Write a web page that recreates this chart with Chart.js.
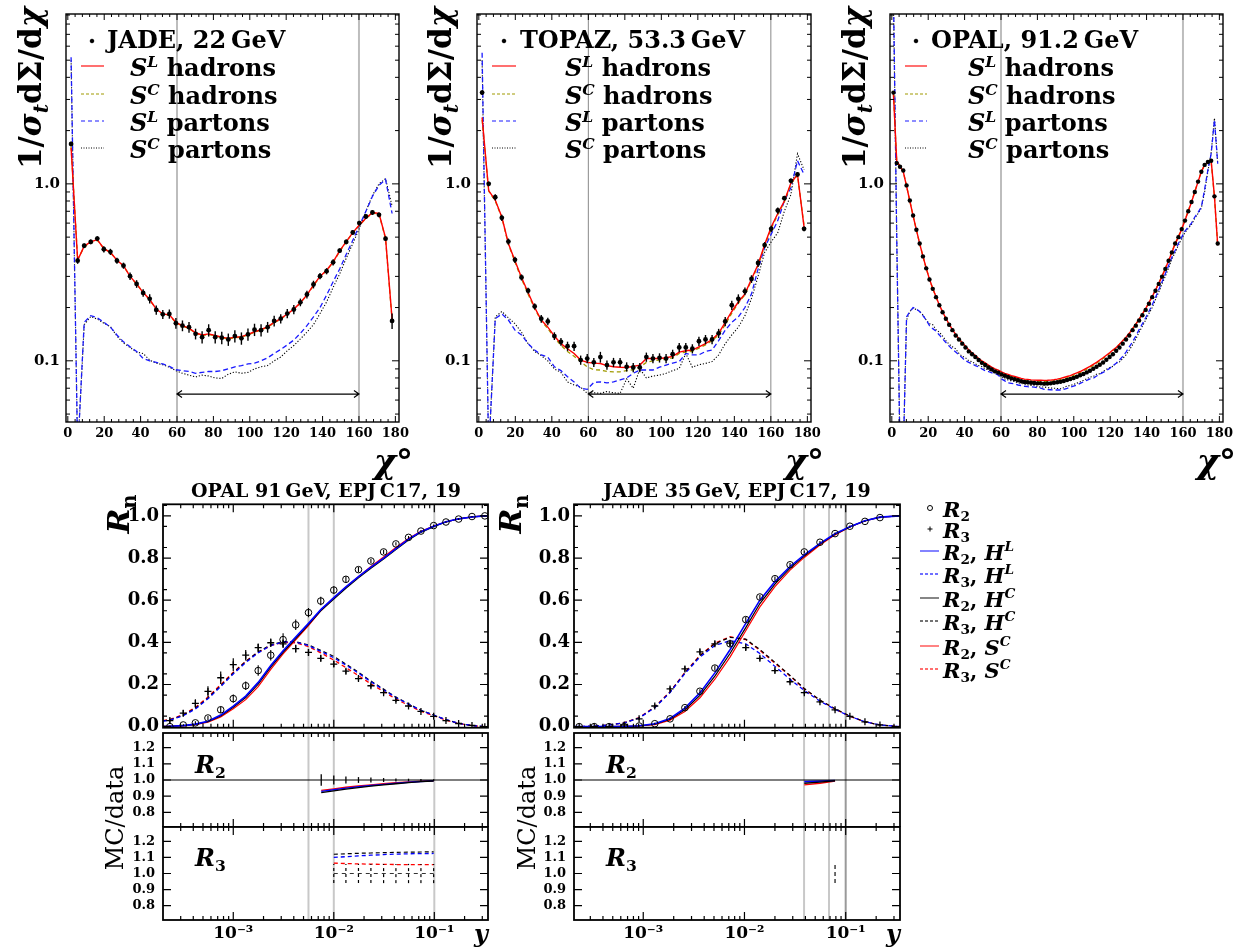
<!DOCTYPE html>
<html><head><meta charset="utf-8">
<script src="https://cdn.jsdelivr.net/npm/chart.js@4.4.1/dist/chart.umd.min.js"></script>
<style>
html,body{margin:0;padding:0;background:#fff;}
body{width:1242px;height:951px;position:relative;overflow:hidden;font-family:"DejaVu Serif",serif;color:#000;}
canvas{position:absolute;}
.t{position:absolute;white-space:nowrap;line-height:1;}
.t sup{font-size:0.65em;vertical-align:0.6em;line-height:0;}
.t sub{font-size:0.65em;vertical-align:-0.35em;line-height:0;}
svg{position:absolute;overflow:visible;left:0;top:0;}
</style></head><body>
<script>
// ---------------- DATA ----------------
const TOP_X_TICKS = [0,20,40,60,80,100,120,140,160,180];
const TOP_X_LABELS = ['0','20','40','60','80','100','120','140','160','180'];
const TOP_Y_TICKS = [0.1, 1];
const TOP_Y_LABELS = ['0.1','1.0'];
const BOT_X_TICKS = [0.001, 0.01, 0.1];
const BOT_X_LABELS = ['10\u207B\u00B3','10\u207B\u00B2','10\u207B\u00B9'];
const MAIN_Y_TICKS = [0,0.2,0.4,0.6,0.8,1.0];
const MAIN_Y_LABELS = ['0.0','0.2','0.4','0.6','0.8','1.0'];
const RATIO_Y_TICKS = [0.8,0.9,1.0,1.1,1.2];
const RATIO_Y_LABELS = ['0.8','0.9','1.0','1.1','1.2'];

const chi50 = [1.8,5.4,9,12.6,16.2,19.8,23.4,27,30.6,34.2,37.8,41.4,45,48.6,52.2,55.8,59.4,63,66.6,70.2,73.8,77.4,81,84.6,88.2,91.8,95.4,99,102.6,106.2,109.8,113.4,117,120.6,124.2,127.8,131.4,135,138.6,142.2,145.8,149.4,153,156.6,160.2,163.8,167.4,171,174.6,178.2];
const chi100 = [0.9,2.7,4.5,6.3,8.1,9.9,11.7,13.5,15.3,17.1,18.9,20.7,22.5,24.3,26.1,27.9,29.7,31.5,33.3,35.1,36.9,38.7,40.5,42.3,44.1,45.9,47.7,49.5,51.3,53.1,54.9,56.7,58.5,60.3,62.1,63.9,65.7,67.5,69.3,71.1,72.9,74.7,76.5,78.3,80.1,81.9,83.7,85.5,87.3,89.1,90.9,92.7,94.5,96.3,98.1,99.9,101.7,103.5,105.3,107.1,108.9,110.7,112.5,114.3,116.1,117.9,119.7,121.5,123.3,125.1,126.9,128.7,130.5,132.3,134.1,135.9,137.7,139.5,141.3,143.1,144.9,146.7,148.5,150.3,152.1,153.9,155.7,157.5,159.3,161.1,162.9,164.7,166.5,168.3,170.1,171.9,173.7,175.5,177.3,179.1];

// JADE 22 GeV
const jadeData = [1.68,0.368,0.447,0.470,0.491,0.427,0.413,0.368,0.345,0.301,0.272,0.242,0.224,0.194,0.183,0.184,0.163,0.158,0.155,0.142,0.136,0.149,0.136,0.135,0.132,0.138,0.134,0.141,0.150,0.149,0.155,0.168,0.173,0.185,0.195,0.214,0.237,0.270,0.301,0.321,0.360,0.419,0.470,0.531,0.600,0.654,0.689,0.668,0.490,0.168];
const jadeErr = [0.03,0.04,0.03,0.03,0.03,0.04,0.04,0.04,0.04,0.05,0.05,0.05,0.06,0.06,0.06,0.06,0.07,0.07,0.07,0.07,0.08,0.08,0.08,0.08,0.08,0.08,0.08,0.08,0.08,0.08,0.07,0.07,0.06,0.06,0.06,0.05,0.05,0.05,0.04,0.04,0.04,0.03,0.03,0.03,0.03,0.03,0.03,0.03,0.03,0.10];
const jadeSLhad = [1.60,0.37,0.445,0.47,0.485,0.43,0.41,0.37,0.345,0.30,0.272,0.243,0.222,0.196,0.184,0.182,0.165,0.158,0.153,0.144,0.140,0.142,0.139,0.136,0.134,0.136,0.137,0.141,0.146,0.150,0.156,0.165,0.173,0.184,0.196,0.213,0.236,0.268,0.300,0.325,0.362,0.418,0.472,0.530,0.585,0.640,0.688,0.680,0.495,0.172];
const jadeSChad = [1.62,0.375,0.44,0.465,0.48,0.432,0.408,0.372,0.342,0.302,0.27,0.245,0.22,0.197,0.182,0.181,0.164,0.157,0.152,0.143,0.139,0.141,0.138,0.135,0.133,0.135,0.136,0.140,0.145,0.149,0.155,0.164,0.172,0.183,0.195,0.212,0.235,0.266,0.298,0.323,0.360,0.415,0.470,0.528,0.582,0.636,0.684,0.676,0.49,0.17];
const jadeSLpar = [5.2,0.03,0.165,0.18,0.175,0.165,0.155,0.14,0.128,0.12,0.113,0.103,0.100,0.098,0.096,0.093,0.089,0.088,0.087,0.085,0.086,0.087,0.087,0.088,0.090,0.0925,0.094,0.096,0.097,0.100,0.104,0.110,0.116,0.123,0.131,0.143,0.158,0.177,0.20,0.235,0.28,0.33,0.40,0.48,0.58,0.70,0.85,0.98,1.06,0.68];
const jadeSCpar = [5.0,0.03,0.16,0.178,0.172,0.163,0.156,0.138,0.126,0.119,0.112,0.11,0.101,0.097,0.095,0.092,0.088,0.085,0.083,0.081,0.083,0.082,0.080,0.0795,0.084,0.0867,0.085,0.086,0.090,0.0925,0.094,0.100,0.105,0.114,0.122,0.133,0.145,0.160,0.185,0.215,0.26,0.31,0.38,0.46,0.56,0.70,0.86,1.0,1.07,0.75];

// TOPAZ 53.3 GeV
const topazData = [3.28,1.0,0.84,0.643,0.472,0.372,0.296,0.249,0.203,0.173,0.167,0.138,0.128,0.121,0.121,0.101,0.103,0.098,0.105,0.0946,0.098,0.098,0.0925,0.0917,0.0917,0.105,0.103,0.104,0.103,0.109,0.119,0.119,0.117,0.129,0.132,0.132,0.143,0.167,0.206,0.224,0.247,0.29,0.357,0.451,0.557,0.707,0.83,1.04,1.13,0.557];
const topazErr = [0.03,0.03,0.04,0.04,0.04,0.04,0.04,0.04,0.04,0.05,0.05,0.05,0.05,0.06,0.06,0.06,0.06,0.06,0.07,0.06,0.06,0.06,0.06,0.06,0.06,0.06,0.06,0.06,0.06,0.06,0.06,0.06,0.06,0.06,0.06,0.06,0.06,0.06,0.06,0.06,0.05,0.05,0.05,0.04,0.04,0.04,0.03,0.03,0.03,0.03];
const topazSLhad = [2.37,0.917,0.81,0.65,0.46,0.368,0.296,0.243,0.2,0.17,0.155,0.138,0.125,0.117,0.11,0.101,0.098,0.097,0.0966,0.094,0.0925,0.092,0.0917,0.093,0.0946,0.103,0.103,0.103,0.104,0.106,0.112,0.114,0.115,0.12,0.125,0.132,0.143,0.165,0.19,0.215,0.239,0.29,0.35,0.455,0.57,0.68,0.80,1.01,1.13,0.57];
const topazSChad = [2.3,0.91,0.80,0.645,0.455,0.362,0.29,0.238,0.197,0.168,0.152,0.135,0.122,0.113,0.106,0.099,0.0925,0.089,0.0887,0.087,0.0867,0.0867,0.088,0.089,0.092,0.098,0.100,0.101,0.102,0.104,0.110,0.112,0.113,0.118,0.123,0.130,0.140,0.160,0.186,0.212,0.236,0.285,0.345,0.445,0.56,0.67,0.79,1.0,1.12,0.58];
const topazSLpar = [5.5,0.03,0.173,0.184,0.17,0.149,0.14,0.125,0.115,0.108,0.105,0.0925,0.088,0.0813,0.076,0.070,0.069,0.0755,0.076,0.075,0.076,0.078,0.08,0.085,0.0887,0.0887,0.0887,0.092,0.0946,0.097,0.099,0.11,0.108,0.108,0.113,0.115,0.13,0.149,0.165,0.177,0.20,0.239,0.33,0.437,0.52,0.62,0.80,0.95,1.35,1.13];
const topazSCpar = [5.0,0.03,0.177,0.19,0.175,0.162,0.145,0.125,0.113,0.107,0.1,0.09,0.086,0.076,0.073,0.071,0.0655,0.066,0.0655,0.067,0.066,0.0655,0.079,0.070,0.090,0.080,0.082,0.083,0.085,0.088,0.0906,0.11,0.092,0.095,0.0966,0.099,0.108,0.125,0.14,0.155,0.18,0.225,0.30,0.41,0.47,0.53,0.70,0.87,1.48,1.2];

// OPAL 91.2 GeV
const opalData = [3.28,1.31,1.25,1.19,0.98,0.805,0.663,0.55,0.46,0.389,0.333,0.288,0.255,0.229,0.206,0.188,0.173,0.160,0.149,0.139,0.132,0.125,0.119,0.113,0.109,0.105,0.101,0.0974,0.0946,0.0917,0.0894,0.0871,0.0857,0.0838,0.0824,0.0810,0.0796,0.0786,0.0776,0.0766,0.0759,0.0756,0.0752,0.0749,0.0746,0.0746,0.0743,0.0745,0.0746,0.0752,0.0756,0.0762,0.0769,0.0779,0.0789,0.0799,0.0813,0.0828,0.0842,0.0860,0.0879,0.0902,0.0925,0.0950,0.0979,0.1013,0.105,0.109,0.114,0.119,0.125,0.132,0.139,0.149,0.158,0.169,0.181,0.194,0.210,0.229,0.249,0.272,0.299,0.330,0.368,0.409,0.46,0.50,0.555,0.62,0.70,0.79,0.90,1.03,1.17,1.28,1.33,1.35,0.85,0.46];
const opalErr = 0.02;
const opalSLhad = [3.2,1.35,1.26,1.17,0.97,0.80,0.66,0.55,0.46,0.39,0.334,0.289,0.256,0.23,0.207,0.189,0.174,0.161,0.150,0.141,0.133,0.127,0.121,0.115,0.111,0.107,0.103,0.1,0.0975,0.0945,0.092,0.090,0.0885,0.0865,0.085,0.0838,0.0825,0.0815,0.0805,0.0795,0.0788,0.0785,0.078,0.0778,0.0776,0.0776,0.0775,0.0776,0.0778,0.0782,0.0788,0.0795,0.0805,0.0815,0.0825,0.084,0.0855,0.087,0.089,0.091,0.093,0.0955,0.098,0.101,0.104,0.1075,0.111,0.115,0.119,0.124,0.13,0.136,0.143,0.152,0.161,0.172,0.184,0.197,0.213,0.231,0.251,0.274,0.30,0.331,0.368,0.409,0.458,0.50,0.555,0.62,0.70,0.79,0.90,1.03,1.17,1.28,1.33,1.35,0.85,0.45];
const opalSChad = [3.25,1.33,1.26,1.17,0.975,0.80,0.66,0.55,0.46,0.39,0.333,0.289,0.256,0.229,0.207,0.189,0.174,0.161,0.150,0.140,0.133,0.126,0.120,0.115,0.110,0.106,0.102,0.099,0.096,0.0935,0.091,0.0888,0.087,0.0852,0.0838,0.0825,0.0812,0.0802,0.0792,0.0783,0.0776,0.0772,0.0768,0.0765,0.0763,0.0762,0.0762,0.0763,0.0765,0.0769,0.0775,0.0782,0.0791,0.0801,0.0812,0.0826,0.0841,0.0857,0.0876,0.0896,0.0918,0.0942,0.0968,0.0997,0.103,0.1065,0.110,0.1145,0.119,0.124,0.130,0.136,0.143,0.152,0.161,0.172,0.184,0.197,0.213,0.231,0.252,0.275,0.302,0.334,0.371,0.413,0.462,0.505,0.56,0.625,0.705,0.795,0.905,1.035,1.17,1.28,1.32,1.33,0.84,0.45];
const opalSLpar = [12,0.5,0.03,0.03,0.177,0.19,0.2,0.196,0.19,0.18,0.17,0.158,0.152,0.147,0.14,0.133,0.127,0.121,0.116,0.112,0.108,0.104,0.1,0.098,0.096,0.094,0.0925,0.09,0.088,0.087,0.0855,0.085,0.083,0.079,0.077,0.075,0.0746,0.074,0.073,0.0725,0.0718,0.0714,0.0712,0.071,0.0705,0.07,0.069,0.0688,0.0686,0.0684,0.0684,0.0684,0.069,0.0698,0.071,0.072,0.073,0.0745,0.076,0.0775,0.079,0.0796,0.082,0.084,0.086,0.088,0.0906,0.094,0.097,0.101,0.106,0.112,0.12,0.128,0.138,0.15,0.162,0.175,0.19,0.207,0.228,0.252,0.28,0.31,0.345,0.385,0.42,0.46,0.5,0.54,0.57,0.6,0.65,0.69,0.74,0.93,1.2,1.48,2.3,1.3];
const opalSCpar = [11,0.5,0.03,0.03,0.17,0.19,0.198,0.195,0.19,0.182,0.17,0.162,0.16,0.15,0.145,0.138,0.13,0.124,0.12,0.117,0.11,0.106,0.104,0.1,0.099,0.096,0.094,0.093,0.09,0.089,0.0875,0.087,0.084,0.0815,0.079,0.078,0.077,0.0765,0.075,0.0745,0.074,0.073,0.0725,0.0728,0.0715,0.071,0.0712,0.0705,0.0702,0.07,0.0698,0.0695,0.0705,0.072,0.0725,0.0735,0.0748,0.076,0.0775,0.079,0.081,0.0815,0.084,0.0845,0.087,0.0895,0.0915,0.093,0.097,0.0985,0.103,0.108,0.115,0.123,0.133,0.145,0.157,0.17,0.185,0.2,0.222,0.245,0.272,0.3,0.335,0.375,0.41,0.45,0.49,0.53,0.56,0.59,0.64,0.68,0.73,0.9,1.18,1.5,2.35,1.3];

// OPAL 91 GeV jet rates
const opalYcut = [2.34e-4,3.18e-4,4.2e-4,5.6e-4,7.5e-4,1.0e-3,1.33e-3,1.77e-3,2.36e-3,3.13e-3,4.18e-3,5.6e-3,7.42e-3,0.01,0.0132,0.0176,0.0234,0.0313,0.0415,0.0554,0.0736,0.0985,0.1306,0.1745,0.237,0.318];
const opalR2 = [0.0,0.008,0.018,0.041,0.080,0.133,0.194,0.266,0.339,0.413,0.483,0.541,0.596,0.648,0.699,0.745,0.786,0.829,0.867,0.898,0.928,0.954,0.971,0.985,0.997,1.0];
const opalR2err = [0.005,0.005,0.008,0.01,0.015,0.02,0.02,0.025,0.025,0.03,0.025,0.022,0.02,0.018,0.015,0.012,0.01,0.01,0.008,0.006,0.005,0.005,0.004,0.004,0.003,0.003];
const opalR3 = [0.029,0.064,0.110,0.167,0.232,0.294,0.339,0.375,0.398,0.393,0.370,0.352,0.324,0.297,0.263,0.228,0.194,0.161,0.125,0.098,0.072,0.049,0.029,0.015,0.006,0.0];
const opalR3err = [0.01,0.015,0.02,0.025,0.03,0.03,0.025,0.02,0.02,0.02,0.018,0.016,0.015,0.014,0.012,0.01,0.01,0.008,0.008,0.006,0.005,0.005,0.004,0.003,0.002,0.002];
const opalMCy = [2.0e-4,2.34e-4,3.18e-4,4.2e-4,5.6e-4,7.5e-4,1.0e-3,1.33e-3,1.77e-3,2.36e-3,3.13e-3,4.18e-3,5.6e-3,7.42e-3,0.01,0.0132,0.0176,0.0234,0.0313,0.0415,0.0554,0.0736,0.0985,0.1306,0.1745,0.237,0.318,0.342];
const opalR2HL = [0.001,0.002,0.005,0.012,0.026,0.055,0.097,0.145,0.21,0.29,0.36,0.425,0.49,0.555,0.612,0.663,0.712,0.757,0.80,0.845,0.89,0.925,0.951,0.972,0.986,0.995,1.0,1.0];
const opalR2HC = [0.001,0.002,0.005,0.011,0.024,0.051,0.092,0.138,0.202,0.282,0.353,0.418,0.484,0.55,0.605,0.657,0.706,0.752,0.795,0.84,0.886,0.922,0.949,0.971,0.986,0.995,1.0,1.0];
const opalR2SC = [0.001,0.002,0.004,0.01,0.021,0.046,0.085,0.128,0.19,0.272,0.345,0.412,0.48,0.55,0.61,0.662,0.712,0.76,0.805,0.85,0.893,0.927,0.952,0.972,0.986,0.995,1.0,1.0];
const opalR3HC = [0.027,0.032,0.054,0.087,0.136,0.194,0.255,0.309,0.355,0.388,0.404,0.403,0.388,0.362,0.333,0.297,0.258,0.216,0.178,0.14,0.108,0.078,0.055,0.033,0.016,0.005,0.0,0.0];
const opalR3HL = [0.026,0.031,0.052,0.084,0.132,0.19,0.25,0.304,0.35,0.385,0.402,0.401,0.385,0.357,0.327,0.292,0.254,0.213,0.175,0.138,0.107,0.077,0.055,0.033,0.016,0.005,0.0,0.0];
const opalR3SC = [0.029,0.034,0.057,0.091,0.141,0.199,0.258,0.31,0.353,0.385,0.4,0.398,0.38,0.35,0.316,0.28,0.242,0.203,0.167,0.131,0.101,0.073,0.052,0.031,0.015,0.005,0.0,0.0];
const opalRatioR2y = [0.0075,0.01,0.0132,0.0176,0.0234,0.0313,0.0415,0.0554,0.0736,0.0985];
const opalRatioR2SC = [0.936,0.945,0.955,0.963,0.970,0.977,0.983,0.988,0.992,0.995];
const opalRatioR2HL = [0.930,0.940,0.950,0.958,0.966,0.973,0.980,0.986,0.991,0.995];
const opalRatioR2HC = [0.922,0.933,0.944,0.953,0.962,0.970,0.977,0.984,0.990,0.994];
const opalRatioR2data = [1,1,1,1,1,1,1,1,1,1];
const opalRatioR2err = [0.035,0.028,0.022,0.018,0.015,0.012,0.01,0.008,0.006,0.005];
const opalRatioR3y = [0.01,0.0132,0.0176,0.0234,0.0313,0.0415,0.0554,0.0736,0.0985];
const opalRatioR3HC = [1.12,1.123,1.126,1.128,1.13,1.132,1.133,1.134,1.135];
const opalRatioR3HL = [1.10,1.105,1.11,1.114,1.118,1.121,1.123,1.124,1.125];
const opalRatioR3SC = [1.065,1.062,1.06,1.058,1.057,1.056,1.055,1.055,1.055];
const opalRatioR3data = [1,1,1,1,1,1,1,1,1];
const opalRatioR3err = [0.06,0.06,0.06,0.06,0.06,0.06,0.06,0.06,0.06];

// JADE 35 GeV jet rates
const jadeYcut = [2.33e-4,3.28e-4,4.6e-4,6.5e-4,9.1e-4,1.3e-3,1.84e-3,2.58e-3,3.63e-3,5.1e-3,7.2e-3,0.0103,0.0142,0.02,0.0282,0.039,0.0557,0.0785,0.110,0.155,0.218];
const jadeR2 = [0,0,0,0,0.003,0.014,0.037,0.09,0.168,0.278,0.393,0.508,0.615,0.702,0.768,0.829,0.875,0.916,0.951,0.974,0.992];
const jadeR2err = [0.002,0.002,0.002,0.002,0.003,0.004,0.006,0.008,0.01,0.012,0.012,0.012,0.01,0.01,0.008,0.007,0.006,0.005,0.004,0.003,0.003];
const jadeR3 = [0,0,0,0.008,0.037,0.098,0.179,0.274,0.355,0.393,0.396,0.375,0.324,0.266,0.213,0.161,0.118,0.080,0.049,0.023,0.008];
const jadeR3err = [0.002,0.002,0.003,0.004,0.006,0.008,0.01,0.012,0.012,0.012,0.012,0.012,0.01,0.01,0.008,0.007,0.006,0.005,0.004,0.003,0.003];
const jadeMCy = [2.07e-4,2.33e-4,3.28e-4,4.6e-4,6.5e-4,9.1e-4,1.3e-3,1.84e-3,2.58e-3,3.63e-3,5.1e-3,7.2e-3,0.0103,0.0142,0.02,0.0282,0.039,0.0557,0.0785,0.110,0.155,0.218,0.344];
const jadeR2HC = [0,0,0,0,0.001,0.003,0.012,0.035,0.08,0.148,0.24,0.347,0.47,0.584,0.676,0.752,0.809,0.867,0.913,0.948,0.977,0.994,1.0];
const jadeR2HL = [0,0,0,0,0.001,0.004,0.014,0.039,0.088,0.16,0.255,0.365,0.49,0.6,0.688,0.76,0.815,0.87,0.915,0.949,0.977,0.994,1.0];
const jadeR2SC = [0,0,0,0,0.001,0.003,0.01,0.031,0.072,0.137,0.225,0.33,0.455,0.568,0.664,0.743,0.803,0.862,0.91,0.947,0.976,0.994,1.0];
const jadeR3HC = [0,0,0.002,0.008,0.018,0.041,0.092,0.164,0.255,0.336,0.393,0.424,0.415,0.366,0.305,0.243,0.181,0.126,0.085,0.05,0.023,0.008,0];
const jadeR3SC = [0,0,0.002,0.008,0.019,0.043,0.094,0.166,0.257,0.338,0.396,0.427,0.413,0.362,0.301,0.24,0.179,0.125,0.084,0.049,0.023,0.008,0];
const jadeR3HL = [0,0,0.002,0.008,0.018,0.041,0.09,0.162,0.252,0.33,0.385,0.408,0.393,0.347,0.286,0.225,0.171,0.121,0.082,0.049,0.023,0.008,0];
const jadeRatioR2y = [0.039,0.0557,0.0785];
const jadeRatioR2HL = [0.99,0.993,0.997];
const jadeRatioR2HC = [0.98,0.987,0.995];
const jadeRatioR2SC = [0.97,0.98,0.993];
const jadeRatioR3y = [0.0785];
const jadeRatioR3data = [1.0];
const jadeRatioR3err = [0.06];

// ---------------- RENDERING ----------------
const FONT = '"DejaVu Serif", serif';
const OLIVE = '#a09a00';

const errPlugin = {
  id: 'errbars',
  afterDatasetsDraw(chart) {
    const {ctx, chartArea: a} = chart; const y = chart.scales.y;
    chart.data.datasets.forEach((ds, i) => {
      if (ds.err === undefined) return;
      const meta = chart.getDatasetMeta(i);
      ctx.save();
      ctx.beginPath(); ctx.rect(a.left, a.top, a.width, a.height); ctx.clip();
      ctx.strokeStyle = ds.errColor || '#000'; ctx.lineWidth = ds.errWidth || 1.2;
      ctx.setLineDash(ds.errDash || []);
      meta.data.forEach((pt, j) => {
        const v = ds.data[j].y; const e = Array.isArray(ds.err) ? ds.err[j] : ds.err;
        const lo = ds.errRel ? v * (1 - e) : v - e, hi = ds.errRel ? v * (1 + e) : v + e;
        ctx.beginPath(); ctx.moveTo(pt.x, y.getPixelForValue(lo)); ctx.lineTo(pt.x, y.getPixelForValue(hi)); ctx.stroke();
      });
      ctx.restore();
    });
  }
};

const framePlugin = {
  id: 'frame',
  beforeDatasetsDraw(chart) {
    const f = chart.canvas._frame; if (!f) return;
    const {ctx, chartArea: a} = chart; const x = chart.scales.x;
    ctx.save();
    (f.vlines || []).forEach(l => {
      const px = x.getPixelForValue(l.v);
      ctx.strokeStyle = l.color; ctx.lineWidth = l.w;
      ctx.beginPath(); ctx.moveTo(px, a.top); ctx.lineTo(px, a.bottom); ctx.stroke();
    });
    ctx.restore();
  },
  afterDatasetsDraw(chart) {
    const f = chart.canvas._frame; if (!f) return;
    const {ctx, chartArea: a} = chart; const x = chart.scales.x, y = chart.scales.y;
    ctx.save();
    ctx.strokeStyle = '#000'; ctx.fillStyle = '#000';
    if (f.hline) {
      const py = y.getPixelForValue(f.hline);
      ctx.lineWidth = 1.2; ctx.beginPath(); ctx.moveTo(a.left, py); ctx.lineTo(a.right, py); ctx.stroke();
    }
    if (f.arrow) {
      const x1 = x.getPixelForValue(f.arrow[0]), x2 = x.getPixelForValue(f.arrow[1]), py = y.getPixelForValue(f.arrow[2]);
      ctx.lineWidth = 1.2; ctx.beginPath(); ctx.moveTo(x1, py); ctx.lineTo(x2, py);
      ctx.moveTo(x1 + 5, py - 3.5); ctx.lineTo(x1, py); ctx.lineTo(x1 + 5, py + 3.5);
      ctx.moveTo(x2 - 5, py - 3.5); ctx.lineTo(x2, py); ctx.lineTo(x2 - 5, py + 3.5);
      ctx.stroke();
    }
    ctx.lineWidth = f.tickW || 1;
    const xt = (vals, len) => vals.forEach(v => {
      const px = x.getPixelForValue(v); if (px < a.left + 1 || px > a.right - 1) return;
      ctx.beginPath(); ctx.moveTo(px, a.bottom); ctx.lineTo(px, a.bottom - len);
      ctx.moveTo(px, a.top); ctx.lineTo(px, a.top + len); ctx.stroke();
    });
    const yt = (vals, len) => vals.forEach(v => {
      const py = y.getPixelForValue(v); if (py < a.top + 1 || py > a.bottom - 1) return;
      ctx.beginPath(); ctx.moveTo(a.left, py); ctx.lineTo(a.left + len, py);
      ctx.moveTo(a.right, py); ctx.lineTo(a.right - len, py); ctx.stroke();
    });
    xt(f.xMajor || [], f.xMajLen || 7); xt(f.xMinor || [], f.xMinLen || 4);
    yt(f.yMajor || [], f.yMajLen || 7); yt(f.yMinor || [], f.yMinLen || 4);
    ctx.lineWidth = f.border || 1.5;
    ctx.strokeRect(a.left, a.top, a.width, a.height);
    ctx.restore();
  }
};

function makeChart(area, m, spec) {
  const c = document.createElement('canvas');
  const w = area.r - area.l + m.l + m.r, h = area.b - area.t + m.t + m.b;
  c.width = w; c.height = h;
  c.style.left = (area.l - m.l) + 'px'; c.style.top = (area.t - m.t) + 'px';
  c.style.width = w + 'px'; c.style.height = h + 'px';
  document.body.appendChild(c);
  c._frame = spec.frame;
  return new Chart(c, {
    type: 'scatter',
    data: {datasets: spec.datasets},
    options: {
      responsive: false, animation: false, devicePixelRatio: 1, events: [],
      layout: {padding: {left: 0, top: m.t, right: m.r, bottom: 0}},
      plugins: {legend: {display: false}, tooltip: {enabled: false}},
      elements: {line: {tension: 0}},
      scales: {
        x: {type: spec.xType, min: spec.xMin, max: spec.xMax, position: 'bottom',
          grid: {display: false, drawTicks: false}, border: {display: false},
          afterBuildTicks: s => { s.ticks = spec.xTicks.map(v => ({value: v})); },
          afterFit: s => { s.height = m.b; s.paddingLeft = 0; s.paddingRight = 0; },
          ticks: {display: !!spec.xLabels, autoSkip: false, maxRotation: 0, minRotation: 0, padding: spec.xPad || 4, color: '#000',
            font: {family: FONT, size: spec.xFont || 13, weight: 'bold'},
            callback: (v, i) => spec.xLabels ? spec.xLabels[i] : ''}},
        y: {type: spec.yType, min: spec.yMin, max: spec.yMax, position: 'left',
          grid: {display: false, drawTicks: false}, border: {display: false},
          afterBuildTicks: s => { s.ticks = spec.yTicks.map(v => ({value: v})); },
          afterFit: s => { s.width = m.l; s.paddingTop = 0; s.paddingBottom = 0; },
          ticks: {autoSkip: false, padding: spec.yPad || 5, color: '#000',
            font: {family: FONT, size: spec.yFont || 15, weight: 'bold'},
            callback: (v, i) => spec.yLabels[i]}}
      }
    },
    plugins: [framePlugin, errPlugin]
  });
}

const pts = (xs, ys) => xs.map((x, i) => ({x: x, y: ys[i]}));
const ln = (xs, ys, color, w, dash) => ({data: pts(xs, ys), showLine: true, borderColor: color, borderWidth: w, borderDash: dash || [], pointRadius: 0, fill: false});
const dots = (xs, ys, err, r) => ({data: pts(xs, ys), showLine: false, pointRadius: r, pointBackgroundColor: '#000', pointBorderColor: '#000', pointBorderWidth: 0, err: err, errRel: true, errWidth: 1.4});

// top panels
const topXMinor = []; for (let v = 0; v <= 180; v += 4) if (v % 20) topXMinor.push(v);
const topYMinor = []; [0.01, 0.1, 1].forEach(d => { for (let k = 2; k <= 9; k++) topYMinor.push(k * d); });

function topPanel(area, datasets, vcol, vw) {
  makeChart(area, {l: 60, t: 3, r: 14, b: 24}, {
    xType: 'linear', xMin: -1, xMax: 182, xTicks: TOP_X_TICKS, xLabels: TOP_X_LABELS, xFont: 13, xPad: 4,
    yType: 'logarithmic', yMin: 0.0451, yMax: 9.12, yTicks: TOP_Y_TICKS, yLabels: TOP_Y_LABELS, yFont: 15, yPad: 6,
    datasets: datasets,
    frame: {vlines: [{v: 60, color: vcol, w: vw}, {v: 160, color: vcol, w: vw}], arrow: [60, 160, 0.0649],
      xMajor: TOP_X_TICKS, xMinor: topXMinor, yMajor: TOP_Y_TICKS, yMinor: topYMinor,
      xMajLen: 6, xMinLen: 3, yMajLen: 7, yMinLen: 4, border: 1.4}
  });
}
function topSets(xs, d, e, slh, sch, slp, scp, r) {
  return [dots(xs, d, e, r),
    ln(xs, slh, '#ff0000', 1.4),
    ln(xs, sch, OLIVE, 1.3, [4, 3]),
    ln(xs, slp, '#1a1aff', 1.3, [5, 3]),
    ln(xs, scp, '#000', 1.1, [1.2, 1.8])];
}
topPanel({l: 66, t: 13, r: 399, b: 422}, topSets(chi50, jadeData, jadeErr, jadeSLhad, jadeSChad, jadeSLpar, jadeSCpar, 2.4), '#bdbdbd', 2);
topPanel({l: 477, t: 13, r: 811, b: 422}, topSets(chi50, topazData, topazErr, topazSLhad, topazSChad, topazSLpar, topazSCpar, 2.4), '#888', 1);
topPanel({l: 890, t: 13, r: 1223, b: 422}, topSets(chi100, opalData, opalErr, opalSLhad, opalSChad, opalSLpar, opalSCpar, 2.2), '#bdbdbd', 2);

// bottom panels
const botXMinor = []; [1e-4, 1e-3, 1e-2, 1e-1].forEach(d => { for (let k = 2; k <= 9; k++) botXMinor.push(k * d); });
const mainYMinor = []; for (let v = 0.05; v < 1.06; v += 0.1) mainYMinor.push(v);

function botPanel(L, R, xmin, xmax, vlines, main, r2, r3) {
  const common = {xType: 'logarithmic', xMin: xmin, xMax: xmax, xTicks: BOT_X_TICKS};
  const fr = (extra) => Object.assign({vlines: vlines, xMajor: BOT_X_TICKS, xMinor: botXMinor, xMajLen: 8, xMinLen: 4, border: 1.8, tickW: 1.2}, extra);
  makeChart({l: L, t: 502, r: R, b: 733}, {l: 50, t: 3, r: 12, b: 0}, Object.assign({}, common, {
    yType: 'linear', yMin: -0.005, yMax: 1.055, yTicks: MAIN_Y_TICKS, yLabels: MAIN_Y_LABELS, yFont: 18, yPad: 4,
    datasets: main, frame: fr({yMajor: MAIN_Y_TICKS, yMinor: mainYMinor, yMajLen: 8, yMinLen: 4})}));
  makeChart({l: L, t: 733, r: R, b: 827}, {l: 50, t: 3, r: 12, b: 0}, Object.assign({}, common, {
    yType: 'linear', yMin: 0.71, yMax: 1.29, yTicks: RATIO_Y_TICKS, yLabels: RATIO_Y_LABELS, yFont: 13, yPad: 8,
    datasets: r2, frame: fr({hline: 1, yMajor: RATIO_Y_TICKS, yMajLen: 8})}));
  makeChart({l: L, t: 827, r: R, b: 920}, {l: 50, t: 3, r: 12, b: 30}, Object.assign({}, common, {
    xLabels: BOT_X_LABELS, xFont: 17, xPad: 3,
    yType: 'linear', yMin: 0.71, yMax: 1.29, yTicks: RATIO_Y_TICKS, yLabels: RATIO_Y_LABELS, yFont: 13, yPad: 8,
    datasets: r3, frame: fr({yMajor: RATIO_Y_TICKS, yMajLen: 8})}));
}
const circ = (xs, ys, err) => ({data: pts(xs, ys), showLine: false, pointStyle: 'circle', pointRadius: 3.3, pointBorderWidth: 1, pointBorderColor: '#000', pointBackgroundColor: 'rgba(0,0,0,0)', err: err, errWidth: 1.1});
const cross = (xs, ys, err) => ({data: pts(xs, ys), showLine: false, pointStyle: 'cross', pointRadius: 3.5, pointBorderWidth: 1.3, pointBorderColor: '#000', err: err, errWidth: 1.2});
const BLUE = '#0000ff', RED = '#ff0000', BLK = '#000';

botPanel(163, 488, 2.0e-4, 0.342,
  [{v: 0.0056, color: '#c8c8c8', w: 2}, {v: 0.01, color: '#c8c8c8', w: 2}, {v: 0.1, color: '#c8c8c8', w: 2}],
  [circ(opalYcut, opalR2, opalR2err), cross(opalYcut, opalR3, opalR3err),
   ln(opalMCy, opalR2HL, BLUE, 1.6), ln(opalMCy, opalR2HC, BLK, 1.2), ln(opalMCy, opalR2SC, RED, 1.2),
   ln(opalMCy, opalR3HL, BLUE, 1.3, [4, 3]), ln(opalMCy, opalR3HC, BLK, 1.2, [4, 3]), ln(opalMCy, opalR3SC, RED, 1.3, [4, 3])],
  [{data: pts(opalRatioR2y, opalRatioR2data), showLine: false, pointRadius: 0, err: opalRatioR2err, errWidth: 1.3},
   ln(opalRatioR2y, opalRatioR2HC, BLK, 1.4), ln(opalRatioR2y, opalRatioR2HL, BLUE, 1.4), ln(opalRatioR2y, opalRatioR2SC, RED, 1.4)],
  [{data: pts(opalRatioR3y, opalRatioR3data), showLine: true, borderColor: '#333', borderWidth: 1.2, borderDash: [4, 4], pointRadius: 0, err: opalRatioR3err, errDash: [3, 3], errWidth: 1.2},
   ln(opalRatioR3y, opalRatioR3HC, BLK, 1.2, [4, 3]), ln(opalRatioR3y, opalRatioR3HL, BLUE, 1.3, [4, 3]), ln(opalRatioR3y, opalRatioR3SC, RED, 1.3, [4, 3])]);

botPanel(574, 900, 2.07e-4, 0.344,
  [{v: 0.0388, color: '#c8c8c8', w: 2}, {v: 0.0684, color: '#c8c8c8', w: 2}, {v: 0.1, color: '#999', w: 2}],
  [circ(jadeYcut, jadeR2, jadeR2err), cross(jadeYcut, jadeR3, jadeR3err),
   ln(jadeMCy, jadeR2HL, BLUE, 1.6), ln(jadeMCy, jadeR2HC, BLK, 1.2), ln(jadeMCy, jadeR2SC, RED, 1.2),
   ln(jadeMCy, jadeR3HL, BLUE, 1.3, [4, 3]), ln(jadeMCy, jadeR3HC, BLK, 1.2, [4, 3]), ln(jadeMCy, jadeR3SC, RED, 1.3, [4, 3])],
  [ln(jadeRatioR2y, jadeRatioR2HC, BLK, 1.4), ln(jadeRatioR2y, jadeRatioR2HL, BLUE, 1.6), ln(jadeRatioR2y, jadeRatioR2SC, RED, 1.4)],
  [{data: pts(jadeRatioR3y, jadeRatioR3data), showLine: false, pointRadius: 0, err: jadeRatioR3err, errDash: [4, 3], errWidth: 1.3, errColor: '#222'}]);

// ---------------- TEXT ----------------
function T(html, x, y, o) {
  o = o || {};
  const d = document.createElement('div');
  d.className = 't'; d.innerHTML = html;
  const ax = o.a === 'c' ? '-50%' : o.a === 'r' ? '-100%' : '0';
  d.style.left = x + 'px'; d.style.top = y + 'px';
  d.style.fontSize = (o.s || 20) + 'px';
  d.style.fontWeight = o.w || 'bold';
  if (o.i) d.style.fontStyle = 'italic';
  d.style.transform = 'translate(' + ax + ',-50%)' + (o.rot ? ' rotate(' + o.rot + 'deg)' : '');
  document.body.appendChild(d);
}
const NS = 'http://www.w3.org/2000/svg';
const svg = document.createElementNS(NS, 'svg');
svg.setAttribute('width', 1242); svg.setAttribute('height', 951);
svg.style.width = '1242px'; svg.style.height = '951px';
document.body.appendChild(svg);
function sl(x1, x2, y, color, w, dash) {
  const l = document.createElementNS(NS, 'line');
  l.setAttribute('x1', x1); l.setAttribute('x2', x2); l.setAttribute('y1', y); l.setAttribute('y2', y);
  l.setAttribute('stroke', color); l.setAttribute('stroke-width', w);
  if (dash) l.setAttribute('stroke-dasharray', dash);
  svg.appendChild(l);
}
function sc(x, y, r, fill) {
  const c = document.createElementNS(NS, 'circle');
  c.setAttribute('cx', x); c.setAttribute('cy', y); c.setAttribute('r', r);
  c.setAttribute('fill', fill ? '#000' : 'none'); c.setAttribute('stroke', '#000'); c.setAttribute('stroke-width', 1);
  svg.appendChild(c);
}

// top y-axis titles and x titles
[30, 440, 854].forEach(cx => T('1/<i>σ</i><sub><i>t</i></sub>dΣ/d<i>χ</i>', cx, 88, {a: 'c', s: 31, rot: -90}));
[413, 824, 1236].forEach(rx => T('<i>χ</i>°', rx, 461, {a: 'r', s: 34}));

// top legends
const TOP_LEG = [
  {dot: 92, title: 107, l1: 81, l2: 104, s: 130, text: 'JADE, 22\u2009GeV'},
  {dot: 504, title: 520, l1: 492, l2: 516, s: 565, text: 'TOPAZ, 53.3\u2009GeV'},
  {dot: 916, title: 931, l1: 905, l2: 927, s: 968, text: 'OPAL, 91.2\u2009GeV'}
];
const TOP_LEG_ROWS = [
  {lab: '<i>S</i><sup><i>L</i></sup> hadrons', color: '#ff4040', w: 1.5, dash: null},
  {lab: '<i>S</i><sup><i>C</i></sup> hadrons', color: OLIVE, w: 1.2, dash: '3,2'},
  {lab: '<i>S</i><sup><i>L</i></sup> partons', color: '#1a1aff', w: 1.2, dash: '4,3'},
  {lab: '<i>S</i><sup><i>C</i></sup> partons', color: '#000', w: 1, dash: '1,1.5'}
];
const ROW_Y = [68, 96, 123, 150];
TOP_LEG.forEach(g => {
  sc(g.dot, 41, 1.8, true);
  T(g.text, g.title, 40, {s: 24});
  TOP_LEG_ROWS.forEach((r, i) => {
    sl(g.l1, g.l2, ROW_Y[i] - 2, r.color, r.w, r.dash);
    T(r.lab, g.s, ROW_Y[i], {s: 24});
  });
});

// bottom titles & labels
T('OPAL 91\u2009GeV, EPJ\u2009C17, 19', 326, 490, {a: 'c', s: 19});
T('JADE 35\u2009GeV, EPJ\u2009C17, 19', 737, 490, {a: 'c', s: 19});
[119, 511].forEach(cx => T('<i>R</i><sub>n</sub>', cx, 514, {a: 'c', s: 30, rot: -90}));
[115, 527].forEach(cx => T('MC/data', cx, 818, {a: 'c', s: 24, w: 'normal', rot: -90}));
[195, 606].forEach(lx => { T('<i>R</i><sub>2</sub>', lx, 765, {s: 24}); T('<i>R</i><sub>3</sub>', lx, 858, {s: 24}); });
[488, 900].forEach(rx => T('<i>y</i>', rx, 934, {a: 'r', s: 24, i: true}));

// bottom legend
const BL = [
  {k: 'o', lab: '<i>R</i><sub>2</sub>'},
  {k: '+', lab: '<i>R</i><sub>3</sub>'},
  {k: 'l', c: '#4040ff', d: null, lab: '<i>R</i><sub>2</sub>, <i>H</i><sup><i>L</i></sup>'},
  {k: 'l', c: '#4040ff', d: '3,2', lab: '<i>R</i><sub>3</sub>, <i>H</i><sup><i>L</i></sup>'},
  {k: 'l', c: '#444', d: null, lab: '<i>R</i><sub>2</sub>, <i>H</i><sup><i>C</i></sup>'},
  {k: 'l', c: '#444', d: '3,2', lab: '<i>R</i><sub>3</sub>, <i>H</i><sup><i>C</i></sup>'},
  {k: 'l', c: '#ff4040', d: null, lab: '<i>R</i><sub>2</sub>, <i>S</i><sup><i>C</i></sup>'},
  {k: 'l', c: '#ff4040', d: '3,2', lab: '<i>R</i><sub>3</sub>, <i>S</i><sup><i>C</i></sup>'}
];
const BL_Y = [509, 530, 552, 575, 599, 622, 647, 670];
BL.forEach((b, i) => {
  const y = BL_Y[i];
  if (b.k === 'o') sc(930, y - 1, 2.5, false);
  else if (b.k === '+') { sl(927.5, 932.5, y - 1, '#000', 1); const v = document.createElementNS(NS, 'line'); v.setAttribute('x1', 930); v.setAttribute('x2', 930); v.setAttribute('y1', y - 3.5); v.setAttribute('y2', y + 1.5); v.setAttribute('stroke', '#000'); svg.appendChild(v); }
  else sl(920, 939, y - 1, b.c, 1.3, b.d);
  T(b.lab, 943, y, {s: 21});
});
</script>
</body></html>
